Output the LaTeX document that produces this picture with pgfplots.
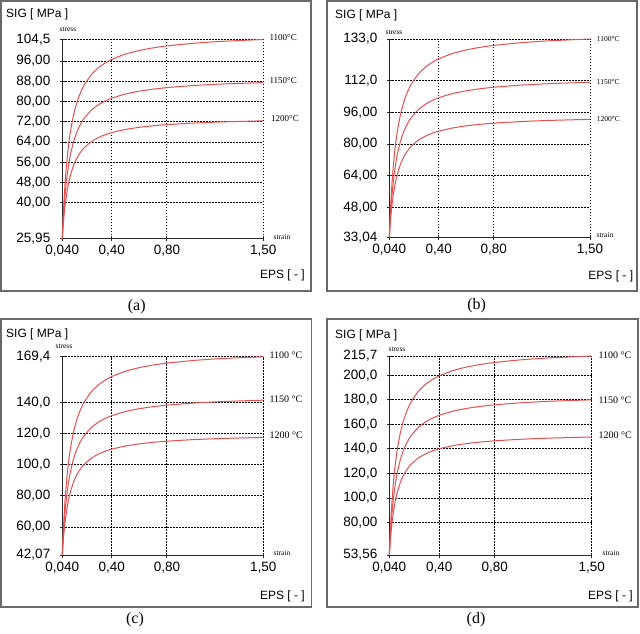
\documentclass[border=0pt]{standalone}
\usepackage{pgfplots}
\pgfplotsset{compat=1.18}
\usepackage{pgfplotstable}
\usepackage{fontspec}
\setmainfont{Liberation Sans}
\newfontfamily\tms{Liberation Serif}
\definecolor{curve}{RGB}{228,80,80}
\definecolor{frame}{RGB}{105,105,105}

\pgfplotstableread{
e t1100 t1150 t1200
0.040 25.95 25.95 25.95
0.045 32.74 31.27 29.97
0.050 38.49 35.77 33.36
0.055 43.42 39.64 36.28
0.060 47.68 42.98 38.80
0.070 54.72 48.49 42.96
0.080 60.28 52.85 46.25
0.090 64.77 56.37 48.91
0.100 68.48 59.27 51.10
0.120 74.26 63.80 54.52
0.140 78.55 67.16 57.05
0.160 81.85 69.75 59.00
0.180 84.47 71.80 60.56
0.200 86.61 73.49 61.82
0.250 90.55 76.57 64.15
0.300 93.24 78.67 65.74
0.350 95.18 80.20 66.89
0.400 96.67 81.36 67.77
0.500 98.76 83.00 69.00
0.600 100.18 84.11 69.85
0.700 101.20 84.91 70.45
0.800 101.96 85.51 70.90
1.000 103.05 86.36 71.54
1.200 103.78 86.93 71.97
1.500 104.50 87.50 72.40
}\tabA
\pgfplotstableread{
e t1100 t1150 t1200
0.040 33.04 33.04 33.04
0.045 41.69 39.80 38.18
0.050 48.99 45.51 42.53
0.055 55.27 50.42 46.26
0.060 60.70 54.67 49.49
0.070 69.65 61.66 54.81
0.080 76.72 67.20 59.02
0.090 82.44 71.67 62.43
0.100 87.16 75.36 65.23
0.120 94.52 81.11 69.61
0.140 99.97 85.38 72.85
0.160 104.17 88.66 75.35
0.180 107.51 91.27 77.34
0.200 110.24 93.40 78.96
0.250 115.25 97.32 81.94
0.300 118.67 99.99 83.97
0.350 121.14 101.93 85.45
0.400 123.04 103.41 86.57
0.500 125.69 105.49 88.15
0.600 127.50 106.90 89.23
0.700 128.80 107.92 90.00
0.800 129.77 108.68 90.58
1.000 131.15 109.75 91.40
1.200 132.08 110.48 91.95
1.500 133.00 111.20 92.50
}\tabB
\pgfplotstableread{
e t1100 t1150 t1200
0.040 42.07 42.07 42.07
0.045 53.08 50.67 48.60
0.050 62.39 57.94 54.12
0.055 70.39 64.18 58.87
0.060 77.30 69.58 62.97
0.070 88.70 78.48 69.73
0.080 97.71 85.52 75.08
0.090 105.00 91.21 79.40
0.100 111.01 95.90 82.96
0.120 120.38 103.22 88.52
0.140 127.33 108.65 92.64
0.160 132.68 112.82 95.82
0.180 136.93 116.15 98.34
0.200 140.41 118.86 100.40
0.250 146.79 123.84 104.19
0.300 151.14 127.24 106.77
0.350 154.30 129.71 108.64
0.400 156.71 131.59 110.07
0.500 160.09 134.23 112.08
0.600 162.40 136.03 113.45
0.700 164.05 137.32 114.43
0.800 165.29 138.29 115.16
1.000 167.04 139.66 116.20
1.200 168.23 140.59 116.90
1.500 169.40 141.50 117.60
}\tabC
\pgfplotstableread{
e t1100 t1150 t1200
0.040 53.56 53.56 53.56
0.045 67.59 64.50 61.88
0.050 79.44 73.74 68.90
0.055 89.62 81.68 74.94
0.060 98.42 88.55 80.16
0.070 112.94 99.86 88.77
0.080 124.41 108.81 95.57
0.090 133.69 116.05 101.07
0.100 141.34 122.01 105.61
0.120 153.28 131.32 112.69
0.140 162.13 138.22 117.94
0.160 168.94 143.53 121.97
0.180 174.35 147.76 125.18
0.200 178.78 151.21 127.81
0.250 186.91 157.54 132.63
0.300 192.45 161.87 135.91
0.350 196.47 165.00 138.30
0.400 199.53 167.39 140.12
0.500 203.85 170.76 142.67
0.600 206.78 173.05 144.41
0.700 208.89 174.69 145.66
0.800 210.46 175.92 146.59
1.000 212.70 177.66 147.92
1.200 214.21 178.84 148.81
1.500 215.70 180.00 149.70
}\tabD

\pgfplotsset{
  panel/.style={
    scale only axis, width=201pt, height=199pt,
    anchor=south west,
    axis lines=left,
    axis line style={-, black!85, line width=1pt},
    xmin=0.04, xmax=1.5,
    xtick={0.04,0.4,0.8,1.5},
    xticklabels={{0,040},{0,40},{0,80},{1,50}},
    xmajorgrids, ymajorgrids,
    grid style={black, dash pattern=on 1.6pt off 1.4pt, line width=0.9pt},
    tick align=center, major tick length=5pt,
    tick style={black!85, line width=0.9pt},
    tick label style={font=\fontsize{13.5}{14}\selectfont},
    yticklabel style={xshift=-6pt},
    xticklabel style={yshift=-1pt},
    clip=false,
  },
  crv/.style={curve, line width=1pt, smooth, tension=0.3},
}

\begin{document}
\begin{tikzpicture}[x=1pt,y=1pt]
\path[use as bounding box] (0,0) rectangle (640,633);
% frames
\draw[frame, line width=1.8pt] (1,342.3) rectangle (311,632);
\draw[frame, line width=1.8pt] (327.3,342.3) rectangle (637,632);
\draw[frame, line width=1.8pt] (1,26) rectangle (311.5,314);
\draw[frame, line width=1.8pt] (327,26) rectangle (638,314);

% (a)
\begin{axis}[panel, at={(62.3pt,394.5pt)}, ymin=25.95, ymax=104.5,
  ytick={25.95,40,48,56,64,72,80,88,96,104.5},
  yticklabels={{25,95},{40,00},{48,00},{56,00},{64,00},{72,00},{80,00},{88,00},{96,00},{104,5}}]
\addplot[crv] table[x=e,y=t1100] {\tabA};
\addplot[crv] table[x=e,y=t1150] {\tabA};
\addplot[crv] table[x=e,y=t1200] {\tabA};
\end{axis}
% (b)
\begin{axis}[panel, at={(389.3pt,395.7pt)}, width=200.7pt, height=198.3pt, ymin=33.04, ymax=133,
  ytick={33.04,48,64,80,96,112,133},
  yticklabels={{33,04},{48,00},{64,00},{80,00},{96,00},{112,0},{133,0}}]
\addplot[crv] table[x=e,y=t1100] {\tabB};
\addplot[crv] table[x=e,y=t1150] {\tabB};
\addplot[crv] table[x=e,y=t1200] {\tabB};
\end{axis}
% (c)
\begin{axis}[panel, at={(62.3pt,78pt)}, height=198.3pt, ymin=42.07, ymax=169.4,
  ytick={42.07,60,80,100,120,140,169.4},
  yticklabels={{42,07},{60,00},{80,00},{100,0},{120,0},{140,0},{169,4}}]
\addplot[crv] table[x=e,y=t1100] {\tabC};
\addplot[crv] table[x=e,y=t1150] {\tabC};
\addplot[crv] table[x=e,y=t1200] {\tabC};
\end{axis}
% (d)
\begin{axis}[panel, at={(389.3pt,78pt)}, width=202.4pt, height=199pt, ymin=53.56, ymax=215.7,
  ytick={53.56,80,100,120,140,160,180,200,215.7},
  yticklabels={{53,56},{80,00},{100,0},{120,0},{140,0},{160,0},{180,0},{200,0},{215,7}}]
\addplot[crv] table[x=e,y=t1100] {\tabD};
\addplot[crv] table[x=e,y=t1150] {\tabD};
\addplot[crv] table[x=e,y=t1200] {\tabD};
\end{axis}

% axis titles
\begin{scope}[every node/.style={font=\fontsize{12}{13}\selectfont, inner sep=0pt}]
\node[anchor=west] at (6,618.7) {SIG [ MPa ]};
\node[anchor=west] at (335,617.3) {SIG [ MPa ]};
\node[anchor=west] at (6,299) {SIG [ MPa ]};
\node[anchor=west] at (335,298) {SIG [ MPa ]};
\node[anchor=east] at (305,358) {EPS [ - ]};
\node[anchor=east] at (633.3,356.3) {EPS [ - ]};
\node[anchor=east] at (305,37) {EPS [ - ]};
\node[anchor=east] at (633,37) {EPS [ - ]};
\end{scope}
% stress / strain
\begin{scope}[every node/.style={font=\tms\fontsize{7.5}{8}\selectfont, inner sep=0pt}]
\node at (68,603.7) {stress};
\node at (394,600.3) {stress};
\node at (64,286.3) {stress};
\node at (397,284) {stress};
\node at (282,396) {strain};
\node at (605,397.7) {strain};
\node at (282,80) {strain};
\node at (611,80) {strain};
\end{scope}
% temperatures
\begin{scope}[every node/.style={font=\tms\fontsize{9}{10}\selectfont, inner sep=0pt, anchor=west}]
\node at (269.3,595.7) {1100°C};
\node at (269.3,552.3) {1150°C};
\node at (271,514.3) {1200°C};
\end{scope}
\begin{scope}[every node/.style={font=\tms\fontsize{7.5}{8}\selectfont, inner sep=0pt, anchor=west}]
\node at (596.7,594) {1100°C};
\node at (596.7,551) {1150°C};
\node at (596.7,514) {1200°C};
\end{scope}
\begin{scope}[every node/.style={font=\tms\fontsize{10}{11}\selectfont, inner sep=0pt, anchor=west}]
\node at (269.3,278) {1100 °C};
\node at (269.3,234) {1150 °C};
\node at (269.3,197.7) {1200 °C};
\node at (598.3,278) {1100 °C};
\node at (598.3,233) {1150 °C};
\node at (598.3,198) {1200 °C};
\end{scope}
% captions
\begin{scope}[every node/.style={font=\tms\fontsize{16}{18}\selectfont, inner sep=0pt}]
\node at (136.7,326.3) {(a)};
\node at (476.7,327) {(b)};
\node at (135,13) {(c)};
\node at (476,13) {(d)};
\end{scope}
\end{tikzpicture}
\end{document}
